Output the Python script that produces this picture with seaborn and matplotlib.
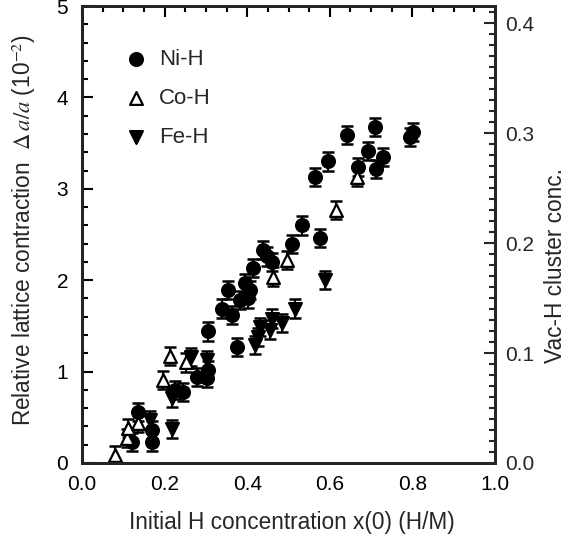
import matplotlib
matplotlib.use("Agg")
import matplotlib.pyplot as plt
import seaborn as sns
import pandas as pd
import numpy as np
from matplotlib.ticker import MultipleLocator, FormatStrFormatter

# ---- data ----
ni_x = [0.120, 0.136, 0.169, 0.169, 0.225, 0.245, 0.278, 0.302, 0.306, 0.306,
        0.375, 0.338, 0.354, 0.362, 0.383, 0.395, 0.403, 0.407, 0.415, 0.439,
        0.447, 0.459, 0.508, 0.532, 0.576, 0.564, 0.596, 0.641, 0.669, 0.693,
        0.709, 0.711, 0.730, 0.794, 0.802]
ni_y = [0.23, 0.56, 0.36, 0.23, 0.80, 0.78, 0.94, 0.93, 1.02, 1.44,
        1.27, 1.69, 1.89, 1.62, 1.78, 1.97, 1.80, 1.89, 2.13, 2.33,
        2.26, 2.20, 2.40, 2.60, 2.46, 3.13, 3.30, 3.59, 3.24, 3.41,
        3.68, 3.22, 3.35, 3.57, 3.62]

co_x = [0.080, 0.108, 0.112, 0.135, 0.197, 0.213, 0.253, 0.463, 0.497, 0.615, 0.666]
co_y = [0.09, 0.27, 0.38, 0.44, 0.91, 1.17, 1.10, 2.04, 2.22, 2.77, 3.13]

fe_x = [0.165, 0.217, 0.217, 0.265, 0.302, 0.419, 0.427, 0.431, 0.455, 0.459,
        0.484, 0.516, 0.588]
fe_y = [0.47, 0.37, 0.71, 1.16, 1.13, 1.29, 1.38, 1.49, 1.46, 1.58,
        1.53, 1.69, 2.00]

err = 0.1
series = ["Ni-H", "Co-H", "Fe-H"]
x_ticks = [0.0, 0.2, 0.4, 0.6, 0.8, 1.0]
y_ticks = [0, 1, 2, 3, 4, 5]
y2_ticks = [0.0, 0.1, 0.2, 0.3, 0.4]

df = pd.DataFrame({
    "x": ni_x + co_x + fe_x,
    "y": ni_y + co_y + fe_y,
    "s": [series[0]] * len(ni_x) + [series[1]] * len(co_x) + [series[2]] * len(fe_x),
})

sns.set_style("white")
plt.rcParams["font.family"] = ["Liberation Sans", "DejaVu Sans"]
plt.rcParams["mathtext.fontset"] = "stix"

TICK_FS = 15
LAB_FS = 16.3

fig = plt.figure(figsize=(5.72, 5.40), dpi=100)
ax = fig.add_axes([82 / 572, 77 / 540, 413 / 572, 457 / 540])

# error bars
ax.errorbar(df["x"], df["y"], yerr=err, fmt="none", ecolor="black",
            elinewidth=1.5, capsize=4, capthick=1.8, zorder=2)

markers = {"Ni-H": "o", "Co-H": "^", "Fe-H": "v"}
for name, fc in zip(series, ["black", "white", "black"]):
    sub = df[df["s"] == name]
    sns.scatterplot(data=sub, x="x", y="y", marker=markers[name], s=85,
                    color=fc, edgecolor="black", linewidth=1.6, ax=ax,
                    label=name, zorder=3)

ax.set_xlim(0, 1.0)
ax.set_ylim(0, 5)
ax.set_xticks(x_ticks)
ax.set_yticks(y_ticks)
ax.xaxis.set_major_formatter(FormatStrFormatter("%.1f"))
ax.xaxis.set_minor_locator(MultipleLocator(0.05))
ax.yaxis.set_minor_locator(MultipleLocator(0.2))
ax.tick_params(which="both", direction="in", top=True, right=False,
               labelsize=TICK_FS, width=1.5, colors="black")
ax.tick_params(which="major", length=8)
ax.tick_params(which="minor", length=4)
ax.tick_params(axis="x", which="major", pad=9)
ax.tick_params(axis="y", which="major", pad=10)
for sp in ax.spines.values():
    sp.set_linewidth(2)
    sp.set_color("black")

ax.set_xlabel("")
ax.set_ylabel("")
fig.text(292 / 572, 1 - 522 / 540, "Initial H concentration x(0) (H/M)",
         fontsize=LAB_FS, ha="center", va="center")
fig.text(24 / 572, 1 - 230 / 540,
         r"Relative lattice contraction  $\Delta\,a/a$ (10$^{-2}$)",
         fontsize=LAB_FS, ha="center", va="center", rotation=90)

ax2 = ax.twinx()
ax2.set_ylim(0, 0.4155)
ax2.set_yticks(y2_ticks)
ax2.yaxis.set_major_formatter(FormatStrFormatter("%.1f"))
ax2.yaxis.set_minor_locator(MultipleLocator(0.01))
ax2.tick_params(which="both", direction="in", labelsize=TICK_FS, width=1.5)
ax2.tick_params(which="major", length=8, pad=7)
ax2.tick_params(which="minor", length=4)
for sp in ax2.spines.values():
    sp.set_linewidth(2)
fig.text(556 / 572, 1 - 266 / 540, "Vac-H cluster conc.",
         fontsize=LAB_FS, ha="center", va="center", rotation=90)

leg = ax.legend(loc="upper left", bbox_to_anchor=(0.105, 0.906), frameon=False,
                fontsize=16, labelspacing=0.8, handletextpad=0.5,
                handlelength=1.0, borderaxespad=0, borderpad=0, markerscale=1.0)

fig.savefig("out.png", dpi=100)
